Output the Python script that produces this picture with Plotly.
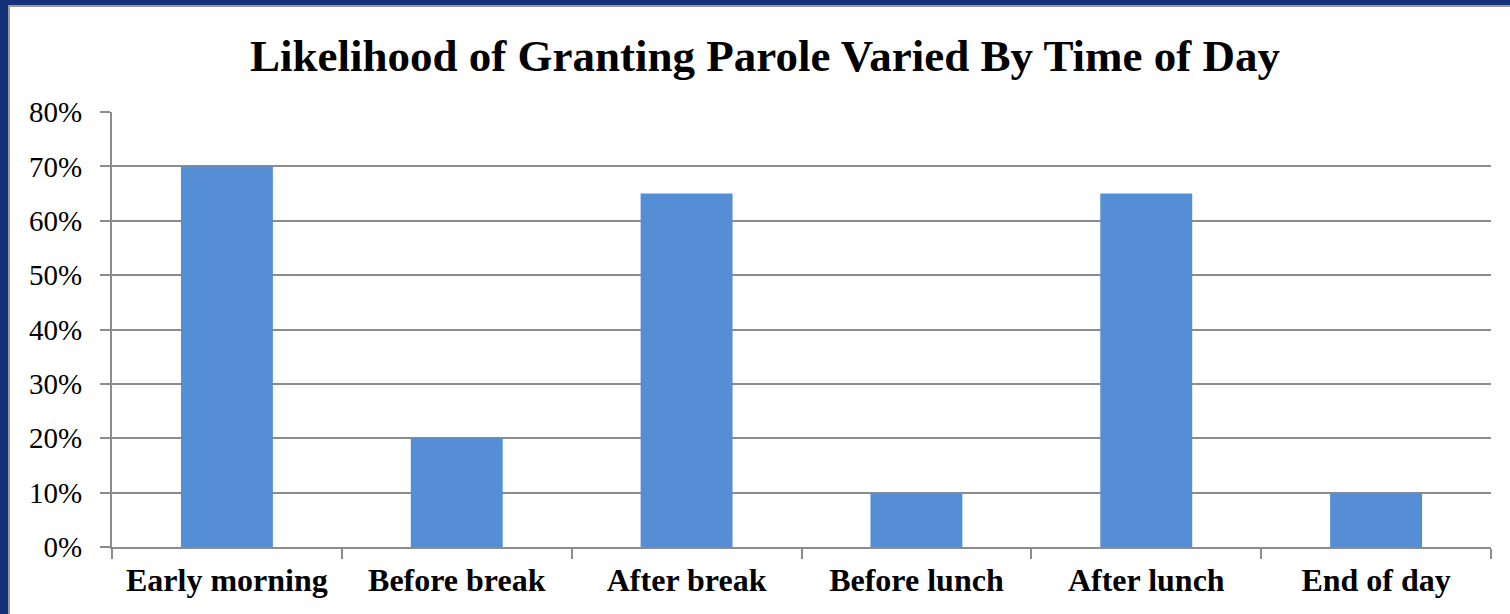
import plotly.graph_objects as go

categories = ["Early morning", "Before break", "After break", "Before lunch", "After lunch", "End of day"]
values = [0.70, 0.20, 0.65, 0.10, 0.65, 0.10]
tick_vals = [0, 0.1, 0.2, 0.3, 0.4, 0.5, 0.6, 0.7, 0.8]
tick_text = ["0%", "10%", "20%", "30%", "40%", "50%", "60%", "70%", "80%"]

W, H = 1510, 614
fig = go.Figure(go.Bar(x=categories, y=values, marker_color="#558ED5",
                       marker_line_width=0, width=0.4))

fig.update_layout(
    width=W, height=H,
    margin=dict(l=112, r=19, t=112, b=67),
    paper_bgcolor="white", plot_bgcolor="white",
    showlegend=False,
    title=dict(text="<b>Likelihood of Granting Parole Varied By Time of Day</b>",
               x=765 / W, xanchor="center", y=1 - 55 / H, yanchor="middle",
               font=dict(family="Liberation Serif", size=45, color="black")),
    font=dict(family="Liberation Serif", color="black"),
)
fig.update_yaxes(range=[0, 0.8], tickvals=tick_vals, ticktext=tick_text,
                 showgrid=True, gridcolor="#8c8c8c", gridwidth=2,
                 showline=True, linecolor="#8c8c8c", linewidth=2,
                 ticks="outside", ticklen=10, tickcolor="#8c8c8c", tickwidth=2,
                 ticklabelstandoff=12,
                 tickfont=dict(family="Liberation Serif", size=29, color="black"),
                 zeroline=False)
fig.update_xaxes(showline=True, linecolor="#8c8c8c", linewidth=2,
                 ticks="outside", tickson="boundaries", ticklen=10,
                 tickcolor="#8c8c8c", tickwidth=2,
                 ticklabelstandoff=4,
                 tickfont=dict(family="Liberation Serif", size=32, color="black"),
                 tickprefix="<b>", ticksuffix="</b>",
                 showgrid=False)

# Slide frame: dark blue border on left and top with a thin gray inner edge
fig.add_shape(type="rect", xref="x domain", yref="y domain",
              x0=-112 / 1379, x1=-104 / 1379, y0=-67 / 435, y1=(435 + 112) / 435,
              fillcolor="#15317a", line_width=0, layer="above")
fig.add_shape(type="rect", xref="x domain", yref="y domain",
              x0=-104 / 1379, x1=-102 / 1379, y0=-67 / 435, y1=(435 + 106) / 435,
              fillcolor="#9a9a9a", line_width=0, layer="above")
fig.add_shape(type="rect", xref="x domain", yref="y domain",
              x0=-112 / 1379, x1=(1379 + 19) / 1379, y0=(435 + 107) / 435, y1=(435 + 112) / 435,
              fillcolor="#15317a", line_width=0, layer="above")
fig.add_shape(type="rect", xref="x domain", yref="y domain",
              x0=-104 / 1379, x1=(1379 + 19) / 1379, y0=(435 + 105) / 435, y1=(435 + 107) / 435,
              fillcolor="#9a9a9a", line_width=0, layer="above")

fig.write_html("out.html")
